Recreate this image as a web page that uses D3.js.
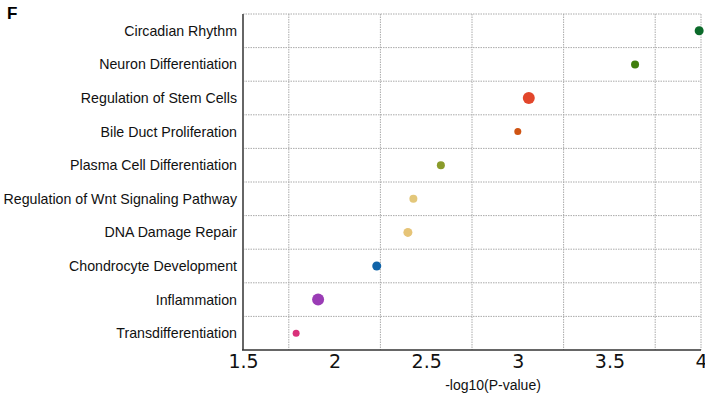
<!DOCTYPE html>
<html>
<head>
<meta charset="utf-8">
<script src="https://cdnjs.cloudflare.com/ajax/libs/d3/7.8.5/d3.min.js"></script>
<style>
  body { margin: 0; background: #fff; }
  .grid line { stroke: #aaa; stroke-dasharray: 1.5 1; stroke-width: 1; }
</style>
</head>
<body>
<div id="chart"></div>
<script>
// pathway terms, top to bottom
const terms = [
  'Circadian Rhythm', 'Neuron Differentiation', 'Regulation of Stem Cells',
  'Bile Duct Proliferation', 'Plasma Cell Differentiation',
  'Regulation of Wnt Signaling Pathway', 'DNA Damage Repair',
  'Chondrocyte Development', 'Inflammation', 'Transdifferentiation'
];
const logP = [3.99, 3.64, 3.06, 3.00, 2.58, 2.43, 2.40, 2.23, 1.91, 1.79];
const dotSize = [4.5, 4, 6, 3.5, 4, 4, 4.5, 4.5, 6, 3.5];
const dotColor = ['#0b6a2a', '#3f7e0c', '#e2462b', '#cf5413', '#8a9b2a',
  '#e3c77a', '#e6c477', '#0f63a8', '#9a3cb5', '#d9307a'];
const xTicks = [1.5, 2, 2.5, 3, 3.5, 4];
const xGrid = [1.75, 2.25, 2.75, 3.25, 3.75];

const width = 705, height = 396;
const margin = { top: 14, right: 4, bottom: 46, left: 243 };

const svg = d3.select('#chart').append('svg')
  .attr('width', width)
  .attr('height', height);

const x = d3.scaleLinear()
  .domain([1.5, 4])
  .range([margin.left, width - margin.right]);

const y = d3.scaleBand()
  .domain(terms)
  .range([margin.top, height - margin.bottom]);

// grid
const grid = svg.append('g').attr('class', 'grid');
grid.selectAll('.vx')
  .data(xGrid.concat([4])).enter()
  .append('line')
  .attr('x1', d => x(d)).attr('x2', d => x(d))
  .attr('y1', y.range()[0]).attr('y2', y.range()[1]);
grid.selectAll('.hy')
  .data(terms.map(t => y(t))).enter()
  .append('line')
  .attr('x1', x(1.5)).attr('x2', x(4))
  .attr('y1', d => d).attr('y2', d => d);

// axes
svg.append('line')
  .attr('x1', x(1.5)).attr('x2', x(1.5))
  .attr('y1', y.range()[0]).attr('y2', y.range()[1])
  .attr('stroke', '#666').attr('stroke-width', 2);
svg.append('line')
  .attr('x1', x(1.5) - 1).attr('x2', x(4))
  .attr('y1', y.range()[1]).attr('y2', y.range()[1])
  .attr('stroke', '#333').attr('stroke-width', 1.5);

const xAxis = d3.axisBottom(x).tickValues(xTicks).tickSize(0).tickPadding(5)
  .tickFormat(d3.format('~g'));
svg.append('g')
  .attr('transform', `translate(0, ${y.range()[1]})`)
  .call(xAxis)
  .call(g => g.select('.domain').remove())
  .selectAll('text')
  .attr('font-family', 'DejaVu Sans, Verdana, sans-serif')
  .attr('font-size', 19)
  .attr('fill', '#111');

// category labels
svg.append('g').selectAll('text')
  .data(terms).enter()
  .append('text')
  .attr('x', margin.left - 6)
  .attr('y', d => y(d) + y.bandwidth() / 2)
  .attr('dy', '0.35em')
  .attr('text-anchor', 'end')
  .attr('font-family', 'Liberation Sans, Arial, sans-serif')
  .attr('font-size', 14.2)
  .attr('fill', '#111')
  .text(d => d);

// dots
svg.append('g').selectAll('circle')
  .data(terms).enter()
  .append('circle')
  .attr('cx', (d, i) => x(logP[i]))
  .attr('cy', d => y(d) + y.bandwidth() / 2)
  .attr('r', (d, i) => dotSize[i])
  .attr('fill', (d, i) => dotColor[i]);

// axis title
svg.append('text')
  .attr('x', 493)
  .attr('y', 390)
  .attr('text-anchor', 'middle')
  .attr('font-family', 'Liberation Sans, Arial, sans-serif')
  .attr('font-size', 14)
  .attr('fill', '#111')
  .text('-log10(P-value)');

// panel letter
svg.append('text')
  .attr('x', 7)
  .attr('y', 19)
  .attr('font-family', 'Liberation Sans, Arial, sans-serif')
  .attr('font-weight', 'bold')
  .attr('font-size', 17)
  .text('F');
</script>
</body>
</html>
